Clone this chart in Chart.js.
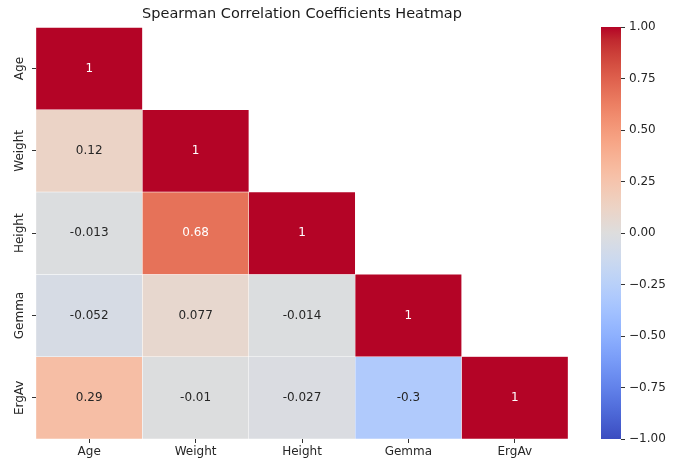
<!DOCTYPE html>
<html lang="en">
  <head>
    <meta charset="UTF-8" />
    <title>Spearman Correlation Coefficients Heatmap</title>
    <script src="https://cdn.jsdelivr.net/npm/chart.js@4.4.1/dist/chart.umd.min.js"></script>
    <style>
      body {
        margin: 0;
        background: #fff;
      }
      #wrap {
        position: relative;
        width: 680px;
        height: 462px;
      }
      #heat {
        position: absolute;
        left: 0;
        top: 0;
      }
      #bar {
        position: absolute;
        left: 580px;
        top: 0;
      }
    </style>
  </head>
  <body>
    <div id="wrap">
      <canvas id="heat" width="604" height="462"></canvas>
      <canvas id="bar" width="100" height="462"></canvas>
    </div>

    <script>
      // Variables (rows and columns)
      const variables = ["Age", "Weight", "Height", "Gemma", "ErgAv"];

      // Lower triangle of the correlation matrix, one array per row
      const ageRow = [1];
      const weightRow = [0.12, 1];
      const heightRow = [-0.013, 0.68, 1];
      const gemmaRow = [-0.052, 0.077, -0.014, 1];
      const ergAvRow = [0.29, -0.01, -0.027, -0.3, 1];
      const rows = [ageRow, weightRow, heightRow, gemmaRow, ergAvRow];

      // Colorbar range and ticks
      const colorMin = -1;
      const colorMax = 1;
      const colorTicks = [-1, -0.75, -0.5, -0.25, 0, 0.25, 0.5, 0.75, 1];

      // coolwarm colormap anchors
      const coolwarm = [
        [59, 76, 192], [68, 90, 204], [77, 104, 215], [87, 117, 225],
        [98, 130, 234], [108, 142, 241], [119, 154, 247], [130, 165, 251],
        [141, 176, 254], [152, 185, 255], [163, 194, 255], [174, 201, 253],
        [184, 208, 249], [194, 213, 244], [204, 217, 238], [213, 219, 230],
        [221, 221, 221], [229, 216, 209], [236, 211, 197], [241, 204, 185],
        [245, 196, 173], [247, 187, 160], [247, 177, 148], [247, 166, 135],
        [244, 154, 123], [241, 141, 111], [236, 127, 99], [229, 112, 88],
        [222, 96, 77], [213, 80, 66], [203, 62, 56], [192, 40, 47],
        [180, 4, 38],
      ];

      function cmap(v) {
        let t = (v - colorMin) / (colorMax - colorMin);
        t = Math.max(0, Math.min(1, t)) * (coolwarm.length - 1);
        const i = Math.min(Math.floor(t), coolwarm.length - 2);
        const f = t - i;
        const a = coolwarm[i];
        const b = coolwarm[i + 1];
        return a.map((c, k) => Math.round(c + (b[k] - c) * f));
      }

      function rgbStr(c) {
        return "rgb(" + c[0] + "," + c[1] + "," + c[2] + ")";
      }

      function textColor(c) {
        const lin = c.map((x) => {
          x = x / 255;
          return x <= 0.03928 ? x / 12.92 : Math.pow((x + 0.055) / 1.055, 2.4);
        });
        const lum = 0.2126 * lin[0] + 0.7152 * lin[1] + 0.0722 * lin[2];
        return lum > 0.408 ? "#262626" : "#ffffff";
      }

      function fmt(v) {
        return String(Number(v.toPrecision(2)));
      }

      Chart.defaults.font.family = "'DejaVu Sans', sans-serif";
      Chart.defaults.font.size = 12;
      Chart.defaults.color = "#262626";

      // One floating-bar dataset per row
      const datasets = rows.map((row, i) => ({
        label: variables[i],
        data: variables.map((_, j) => (j < row.length ? [i, i + 1] : null)),
        values: row,
        backgroundColor: variables.map((_, j) =>
          j < row.length ? rgbStr(cmap(row[j])) : "rgba(0,0,0,0)"
        ),
        borderColor: "#ffffff",
        borderWidth: 0.5,
        borderSkipped: false,
        grouped: false,
        barPercentage: 1,
        categoryPercentage: 1,
      }));

      // Cell annotations and rotated y labels
      const annotate = {
        id: "annotate",
        afterDatasetsDraw(chart) {
          const ctx = chart.ctx;
          ctx.save();
          ctx.font = "12px 'DejaVu Sans', sans-serif";
          ctx.textAlign = "center";
          ctx.textBaseline = "middle";
          chart.data.datasets.forEach((ds, i) => {
            const meta = chart.getDatasetMeta(i);
            ds.values.forEach((v, j) => {
              const el = meta.data[j];
              ctx.fillStyle = textColor(cmap(v));
              ctx.fillText(fmt(v), el.x, (el.y + el.base) / 2);
            });
          });
          ctx.restore();
        },
        afterDraw(chart) {
          const ctx = chart.ctx;
          const yScale = chart.scales.y;
          ctx.save();
          ctx.font = "12px 'DejaVu Sans', sans-serif";
          ctx.fillStyle = "#262626";
          ctx.textAlign = "center";
          ctx.textBaseline = "middle";
          variables.forEach((name, i) => {
            const y = yScale.getPixelForValue(i + 0.5);
            ctx.save();
            ctx.translate(20, y);
            ctx.rotate(-Math.PI / 2);
            ctx.fillText(name, 0, 0);
            ctx.restore();
          });
          ctx.restore();
        },
      };

      new Chart(document.getElementById("heat"), {
        type: "bar",
        data: { labels: variables, datasets: datasets },
        options: {
          responsive: false,
          devicePixelRatio: 1,
          animation: false,
          layout: { padding: { right: 36 } },
          plugins: {
            legend: { display: false },
            tooltip: { enabled: false },
            title: {
              display: true,
              fullSize: false,
              text: "Spearman Correlation Coefficients Heatmap",
              color: "#1a1a1a",
              font: { size: 14.5, weight: "normal" },
              padding: { top: 6, bottom: 4 },
            },
          },
          scales: {
            x: {
              border: { display: false },
              grid: {
                offset: false,
                drawOnChartArea: false,
                tickLength: 4,
                tickColor: "#333",
              },
              ticks: { padding: 2, maxRotation: 0 },
              afterFit(scale) {
                scale.height = 23;
              },
            },
            y: {
              min: 0,
              max: 5,
              reverse: true,
              border: { display: false },
              grid: {
                drawOnChartArea: false,
                tickLength: 4,
                tickColor: "#333",
              },
              ticks: { callback: () => "" },
              afterBuildTicks(scale) {
                scale.ticks = variables.map((_, i) => ({ value: i + 0.5 }));
              },
              afterFit(scale) {
                scale.width = 36;
              },
            },
          },
        },
        plugins: [annotate],
      });

      // Colorbar
      new Chart(document.getElementById("bar"), {
        type: "bar",
        data: {
          labels: [""],
          datasets: [
            {
              data: [[colorMin, colorMax]],
              backgroundColor(context) {
                const area = context.chart.chartArea;
                if (!area) return null;
                const g = context.chart.ctx.createLinearGradient(0, area.bottom, 0, area.top);
                coolwarm.forEach((c, k) => {
                  g.addColorStop(k / (coolwarm.length - 1), rgbStr(c));
                });
                return g;
              },
              borderWidth: 0,
              barPercentage: 1,
              categoryPercentage: 1,
            },
          ],
        },
        options: {
          responsive: false,
          devicePixelRatio: 1,
          animation: false,
          layout: { padding: { left: 21, top: 27, bottom: 23 } },
          plugins: {
            legend: { display: false },
            tooltip: { enabled: false },
          },
          scales: {
            x: { display: false },
            y: {
              position: "right",
              min: colorMin,
              max: colorMax,
              border: { display: false },
              grid: {
                drawOnChartArea: false,
                tickLength: 4,
                tickColor: "#333",
              },
              ticks: {
                padding: 4,
                callback: (v) => v.toFixed(2).replace("-", "\u2212"),
              },
              afterBuildTicks(scale) {
                scale.ticks = colorTicks.map((v) => ({ value: v }));
              },
              afterFit(scale) {
                scale.width = 59;
              },
            },
          },
        },
      });
    </script>
  </body>
</html>
